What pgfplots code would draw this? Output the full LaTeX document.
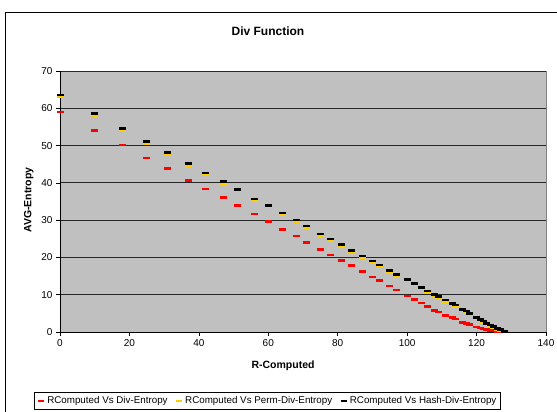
\documentclass[border=0pt]{standalone}
\usepackage{fontspec}
\setmainfont{Liberation Sans}
\usepackage{pgfplots}
\usepackage{pgfplotstable}
\pgfplotsset{compat=1.18}
\definecolor{plotgray}{RGB}{192,192,192}
\definecolor{myyellow}{RGB}{255,204,0}
\definecolor{bordergray}{RGB}{128,128,128}
\pgfplotstableread{
x    red   yel   blk
0    59.0  63.1  63.6
10   54.0  58.1  58.6
18   50.1  54.1  54.6
25   46.7  50.6  51.1
31   43.8  47.7  48.2
37   40.7  44.7  45.2
42   38.4  42.1  42.6
47   36.0  39.8  40.3
51   34.0  37.8  38.2
56   31.7  35.2  35.7
60   29.6  33.5  33.9
64   27.5  31.5  31.9
68   25.7  29.6  30.0
71   24.0  28.0  28.4
75   22.2  25.9  26.3
78   20.7  24.5  24.9
81   19.2  23.0  23.4
84   17.8  21.5  21.9
87   16.2  20.0  20.4
90   14.7  18.6  19.0
92   13.8  17.6  18.0
95   12.3  16.1  16.5
97   11.3  15.1  15.5
100  9.7   13.8  14.1
102  8.7   12.7  13.0
104  7.8   11.7  12.0
106  6.9   10.6  11.0
108  5.8   9.6   10.0
109  5.4   9.2   9.6
111  4.5   8.2   8.6
113  3.9   7.2   7.6
114  3.5   6.8   7.2
116  2.6   5.7   6.1
117  2.3   5.2   5.6
118  2.0   4.6   5.0
120  1.3   3.5   3.9
121  1.1   3.0   3.4
122  0.8   2.5   2.9
123  0.6   2.0   2.3
124  0.4   1.5   1.9
125  0.3   1.1   1.4
126  0.2   0.7   1.0
127  0.1   0.3   0.6
128  0.0   0.0   0.2
}\datatable
\begin{document}
\begin{tikzpicture}[x=1pt,y=1pt]
\begin{axis}[
  at={(60pt,80pt)}, anchor=south west,
  scale only axis, width=486pt, height=261pt,
  xmin=0, xmax=140, ymin=0, ymax=70,
  xtick={0,20,...,140}, ytick={0,10,...,70},
  axis background/.style={fill=plotgray, draw=bordergray, line width=0.8pt},
  axis x line*=bottom, axis y line*=left,
  axis line style={black, line width=0.8pt},
  xtick pos=left, ytick pos=left, tick align=outside,
  major tick length=4pt, tick style={black, line width=0.6pt},
  ymajorgrids, grid style={black!85, line width=0.8pt},
  tick label style={font=\fontsize{10}{12}\selectfont},
  /pgf/number format/assume math mode=true,
  xlabel={\textbf{R-Computed}},
  ylabel={\textbf{AVG-Entropy}},
  xlabel style={at={(axis description cs:0.459,-0.130)}, anchor=center, font=\fontsize{10.5}{12}\selectfont},
  ylabel style={at={(axis description cs:-0.064,0.506)}, anchor=center, rotate=0, font=\fontsize{10.5}{12}\selectfont},
  legend style={at={(axis description cs:0.427,-0.2644)}, anchor=center,
    legend columns=3, draw=black, fill=white, line width=0.8pt,
    font=\fontsize{9.8}{12}\selectfont, inner sep=2pt,
    /tikz/every even column/.append style={column sep=5pt}},
  legend cell align=left,
]
\addplot[only marks, red, mark=-, mark size=3.5pt, mark options={line width=2.6pt},
  legend image code/.code={\draw[red, line width=2.6pt] (0pt,0pt) -- (6pt,0pt);}]
  table[x=x, y=red] {\datatable};
\addlegendentry{RComputed Vs Div-Entropy}
\addplot[only marks, myyellow, mark=-, mark size=3.5pt, mark options={line width=2.6pt},
  legend image code/.code={\draw[myyellow, line width=2.6pt] (0pt,0pt) -- (6pt,0pt);}]
  table[x=x, y=yel] {\datatable};
\addlegendentry{RComputed Vs Perm-Div-Entropy}
\addplot[only marks, black, mark=-, mark size=3.5pt, mark options={line width=2.6pt},
  legend image code/.code={\draw[black, line width=2.6pt] (0pt,0pt) -- (6pt,0pt);}]
  table[x=x, y=blk] {\datatable};
\addlegendentry{RComputed Vs Hash-Div-Entropy}
\end{axis}
\node[font=\bfseries\fontsize{12}{14}\selectfont] at (268,381) {Div Function};
\draw[line width=0.9pt] (5,-10) -- (5,400) -- (580,400);
\pgfresetboundingbox
\path[use as bounding box] (0,0) rectangle (557,412);
\end{tikzpicture}
\end{document}
